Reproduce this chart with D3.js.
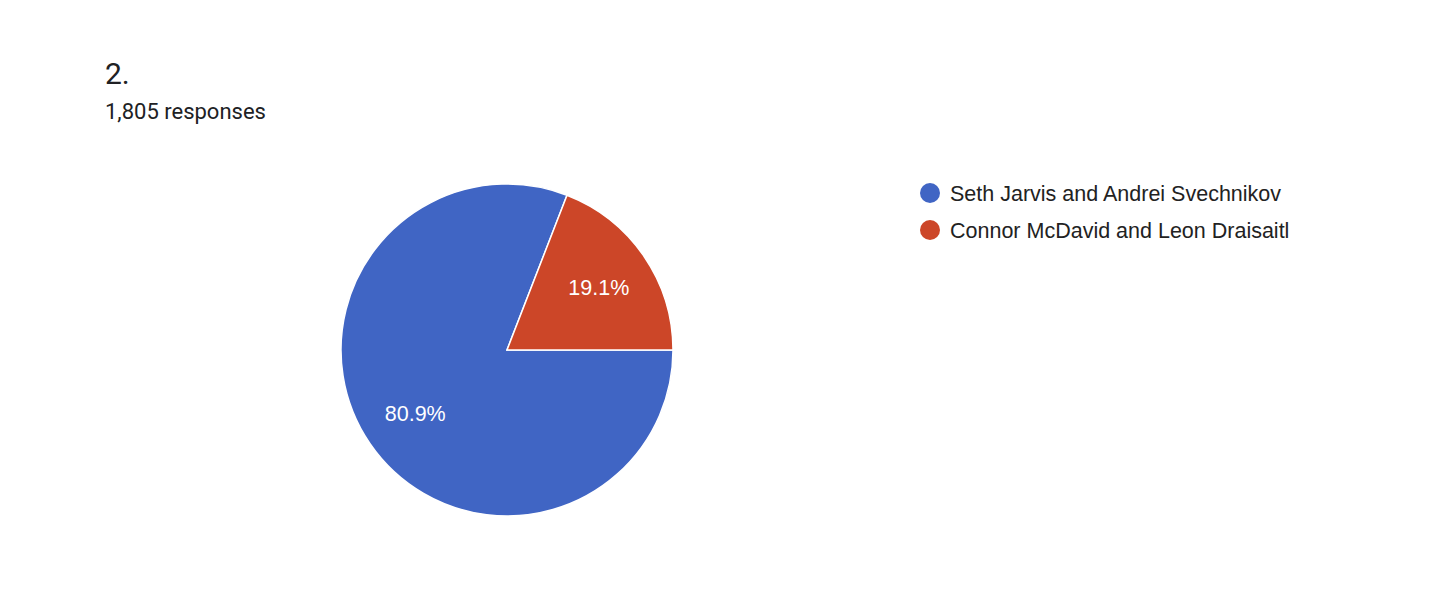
<!DOCTYPE html>
<html>
<head>
<meta charset="utf-8">
<script src="https://cdn.jsdelivr.net/npm/d3@7"></script>
<style>
  html, body { margin: 0; padding: 0; background: #ffffff; }
  svg { display: block; }
</style>
</head>
<body>
<svg id="chart" width="1432" height="602"></svg>
<script>
const categories = ["Seth Jarvis and Andrei Svechnikov", "Connor McDavid and Leon Draisaitl"];
const counts = [1460, 345];
const colors = ["#4065c4", "#cc4628"];
const titleText = "2.";
const subtitleText = "1,805 responses";

const svg = d3.select("#chart");
const cx = 507, cy = 350, R = 166;

svg.append("text").attr("x", 105).attr("y", 84)
  .attr("font-family", "Roboto, sans-serif").attr("font-size", 30)
  .attr("fill", "#202124").text(titleText);
svg.append("text").attr("x", 105).attr("y", 119)
  .attr("font-family", "Roboto, sans-serif").attr("font-size", 22)
  .attr("fill", "#202124").text(subtitleText);

const data = categories.map((c, i) => ({ name: c, value: counts[i], color: colors[i] }));
const total = d3.sum(counts);

const pie = d3.pie().value(d => d.value).sort(null)
  .startAngle(Math.PI / 2).endAngle(Math.PI / 2 + 2 * Math.PI);
const arc = d3.arc().innerRadius(0).outerRadius(R);
const labelArc = d3.arc().innerRadius(R * 0.67).outerRadius(R * 0.67);

const g = svg.append("g").attr("transform", `translate(${cx},${cy})`);
const arcs = pie(data);
g.selectAll("path").data(arcs).join("path")
  .attr("d", arc).attr("fill", d => d.data.color)
  .attr("stroke", "#ffffff").attr("stroke-width", 1.5);

g.selectAll("text.lbl").data(arcs).join("text").attr("class", "lbl")
  .attr("transform", d => `translate(${labelArc.centroid(d)})`)
  .attr("text-anchor", "middle").attr("dy", "0.36em")
  .attr("font-family", "'Liberation Sans', Arial, sans-serif").attr("font-size", 21.5)
  .attr("fill", "#ffffff")
  .text(d => (d.data.value / total * 100).toFixed(1) + "%");

const legend = svg.append("g").attr("transform", "translate(930,193)");
const rows = legend.selectAll("g").data(data).join("g")
  .attr("transform", (d, i) => `translate(0,${i * 37})`);
rows.append("circle").attr("r", 10).attr("fill", d => d.color);
rows.append("text").attr("x", 20).attr("dy", "0.36em")
  .attr("font-family", "'Liberation Sans', Arial, sans-serif").attr("font-size", 21.5)
  .attr("fill", "#222222").text(d => d.name);
</script>
</body>
</html>
